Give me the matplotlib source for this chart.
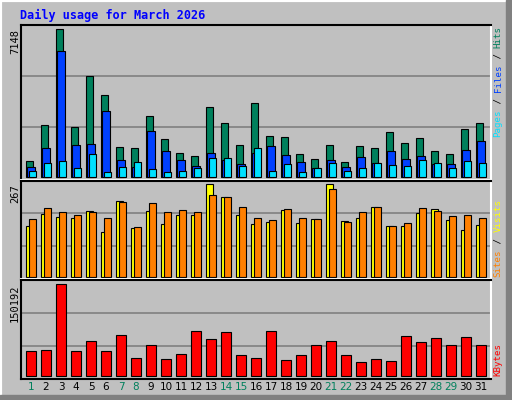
import matplotlib
matplotlib.use("Agg")
import matplotlib.pyplot as plt
from matplotlib.patches import Rectangle

days = list(range(1, 32))
hits = [744, 2490, 7148, 2393, 4868, 3946, 1423, 1375, 2927, 1811, 1132, 986, 3364, 2587, 1520, 3558,
        1957, 1908, 1083, 841, 1520, 695, 1472, 1375, 2151, 1617, 1860, 1229, 1083, 2296, 2587]
files = [453, 1375, 6081, 1520, 1569, 3170, 792, 453, 2200, 1229, 792, 501, 1132, 792, 598, 1132,
         1472, 1035, 695, 404, 792, 453, 938, 647, 1229, 841, 986, 598, 598, 1278, 1714]
pages = [259, 647, 744, 404, 1083, 210, 453, 695, 356, 210, 259, 404, 889, 889, 501, 1375,
         259, 598, 210, 404, 647, 259, 404, 647, 550, 501, 792, 647, 404, 744, 647]
visits = [146, 180, 172, 169, 189, 128, 218, 140, 189, 151, 177, 177, 267, 229, 177, 151,
          157, 192, 154, 166, 267, 160, 169, 200, 146, 146, 183, 195, 163, 134, 148]
sites = [166, 198, 186, 177, 186, 169, 215, 143, 212, 186, 192, 186, 235, 229, 200, 169,
         163, 195, 169, 166, 253, 157, 186, 200, 146, 154, 198, 189, 174, 177, 169]
kbytes = [41657, 43300, 150192, 41657, 58100, 41657, 67966, 30146, 51522, 28501, 36723, 72899,
          61388, 71254, 35079, 30146, 72899, 26857, 35079, 51522, 58100, 35079, 23569, 28501,
          25213, 66321, 56455, 63032, 51522, 64677, 51522]
weekend = [1, 7, 8, 14, 15, 21, 22, 28, 29]

C_HITS, C_FILES, C_PAGES = "#00805C", "#0040FF", "#00E0FF"
C_VIS, C_SITES, C_KB = "#FFFF00", "#FF8000", "#FF0000"
BG = "#C0C0C0"
W, H = 512, 400

fig = plt.figure(figsize=(5.12, 4.0), dpi=100, facecolor=BG)

def pax(x0, y0, x1, y1):
    return fig.add_axes([x0 / W, 1 - y1 / H, (x1 - x0) / W, (y1 - y0) / H])

fig.patches.append(Rectangle((0, 0), 1, 1, transform=fig.transFigure, fill=False,
                             edgecolor="white", lw=3))
fig.patches.append(Rectangle((506 / W, 0), 6 / W, 1, transform=fig.transFigure, color="#808080"))
fig.patches.append(Rectangle((0, 0), 1, 5 / H, transform=fig.transFigure, color="#808080"))

xl = (0.313, 31.646)
a1 = pax(20.7, 25, 490.7, 180)
a2 = pax(20.7, 181, 490.7, 279)
a3 = pax(20.7, 280, 490.7, 379)

def style(ax, top, gf):
    ax.set_facecolor(BG)
    ax.set_xlim(*xl)
    for g in gf:
        ax.axhline(top * g, color="#808080", lw=1.2, zorder=0)
    ax.set_xticks([]); ax.set_yticks([])
    for s in ["top", "left"]:
        ax.spines[s].set_color("black"); ax.spines[s].set_linewidth(1.5)
    for s in ["bottom", "right"]:
        ax.spines[s].set_color("white"); ax.spines[s].set_linewidth(1.5)

bw = 0.47
style(a1, 7148, [0.335, 0.68])
a1.set_ylim(-160, 7357)
a1.bar([d - 0.13 for d in days], hits, bw, color=C_HITS, edgecolor="black", lw=0.8)
a1.bar(days, files, bw, color=C_FILES, edgecolor="black", lw=0.8)
a1.bar([d + 0.13 for d in days], pages, bw, color=C_PAGES, edgecolor="black", lw=0.8)

style(a2, 267, [0.329, 0.686])
a2.set_ylim(-6.6, 276.5)
a2.bar([d - 0.13 for d in days], visits, bw, color=C_VIS, edgecolor="black", lw=0.8)
a2.bar([d + 0.13 for d in days], sites, bw, color=C_SITES, edgecolor="black", lw=0.8)

style(a3, 150192, [0.325, 0.683])
a3.set_ylim(-4930, 157260)
a3.bar(days, kbytes, 0.667, color=C_KB, edgecolor="black", lw=0.8)
a3.spines["bottom"].set_color("black")

for d in days:
    a3.text(d, -0.035, str(d), transform=a3.get_xaxis_transform(), ha="center", va="top",
            fontsize=7.5, color=C_HITS if d in weekend else "black")

fig.text(20 / W, 1 - 15 / H, "Daily usage for March 2026", color="#0000FF",
         family="DejaVu Sans Mono", weight="bold", fontsize=8.5, va="center")

for txt, ytop in [("7148", 29), ("267", 184), ("150192", 284)]:
    fig.text(15 / W, 1 - ytop / H, txt, rotation=90, ha="center", va="top",
             family="DejaVu Sans Mono", fontsize=7.5)

RFS = 6.6
ADV = 0.602 * RFS * 100 / 72

def rlabel(parts, ybottom):
    y = ybottom
    for t, c in parts:
        fig.text(498 / W, 1 - y / H, t, rotation=90, ha="center", va="bottom", color=c,
                 family="DejaVu Sans Mono", fontsize=RFS)
        y -= ADV * len(t) + 0.3

rlabel([("Pages", C_PAGES), (" / ", "black"), ("Files", C_FILES), (" / ", "black"), ("Hits", C_HITS)], 137)
rlabel([("Sites", C_SITES), (" / ", "black"), ("Visits", C_VIS)], 277)
rlabel([("KBytes", C_KB)], 376)

fig.savefig("out.png", dpi=100, facecolor=BG)
